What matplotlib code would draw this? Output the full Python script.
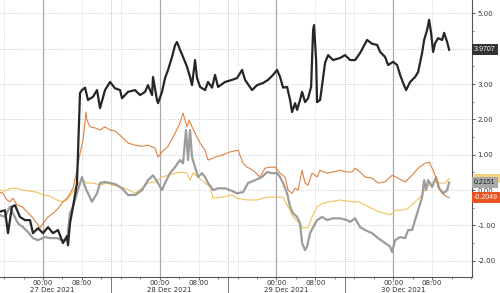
import numpy as np
import matplotlib
matplotlib.use("Agg")
import matplotlib.pyplot as plt
from matplotlib.patches import Rectangle
from matplotlib.ticker import FixedLocator, MultipleLocator, FixedFormatter
import matplotlib.transforms as mtransforms

plt.rcParams["font.family"] = "DejaVu Sans"
plt.rcParams["axes.unicode_minus"] = False

# =========================
# data (hours from 27 Dec 2021 00:00)
# =========================
black_h = [-8.84, -7.81, -7.20, -6.38, -5.76, -4.73, -3.70, -2.67, -2.06, -1.03, 0.00, 1.03,
           2.06, 3.08, 4.11, 4.94, 5.14, 5.55, 6.17, 6.99, 7.61, 8.02, 8.64, 9.25, 10.28, 11.11,
           11.72, 12.75, 13.78, 14.81, 15.84, 16.25, 17.48, 18.92, 19.95, 20.98, 21.59, 22.42,
           22.62, 23.44, 23.65, 24.47, 25.09, 25.71, 26.53, 27.15, 27.56, 28.17, 28.79, 29.61,
           30.23, 30.64, 31.26, 31.67, 32.29, 33.32, 33.93, 34.76, 35.37, 35.99, 37.43, 38.87,
           39.90, 40.93, 41.54, 42.98, 44.01, 45.24, 46.27, 47.30, 48.12, 48.74, 49.36, 50.18,
           50.80, 51.21, 51.83, 52.24, 52.85, 53.27, 53.88, 54.50, 55.12, 55.53, 55.73, 56.15,
           56.35, 56.97, 57.38, 57.99, 58.61, 59.64, 61.08, 62.11, 63.14, 64.16, 65.19, 66.63,
           67.66, 68.69, 69.31, 70.33, 70.95, 71.98, 72.80, 73.42, 74.04, 74.65, 75.48, 76.50,
           77.12, 77.94, 78.36, 78.97, 79.38, 79.79, 80.21, 80.62, 81.23, 82.06, 82.47, 83.09,
           83.50]
black_v = [-0.61, -0.57, -1.22, -0.47, -0.43, -0.76, -0.85, -0.85, -1.22, -1.08, -1.22, -1.05,
           -1.22, -1.13, -1.50, -1.30, -1.56, -0.94, -0.47, 0.20, 2.75, 2.83, 2.90, 2.55, 2.64, 2.83,
           2.32, 2.83, 3.06, 2.88, 2.83, 2.60, 2.78, 2.83, 2.69, 2.78, 2.97, 2.69,
           3.20, 2.55, 2.46, 2.78, 3.17, 3.40, 3.77, 4.10, 4.19, 3.97, 3.77, 3.49,
           3.20, 2.97, 3.68, 3.17, 2.92, 2.83, 3.06, 2.90, 3.26, 2.92, 3.06, 3.12,
           3.17, 3.40, 3.12, 2.83, 2.97, 3.03, 3.12, 3.26, 3.40, 3.20, 2.90, 2.92,
           2.55, 2.21, 2.46, 2.27, 2.55, 2.78, 2.49, 2.60, 2.92, 4.53, 4.67, 3.68,
           2.49, 2.55, 2.97, 3.60, 3.82, 3.68, 3.74, 3.82, 3.68, 3.68, 3.88, 4.25,
           4.14, 4.11, 3.91, 3.77, 3.54, 3.63, 3.54, 3.26, 3.03, 2.83, 3.06, 3.20,
           3.34, 3.88, 4.25, 4.53, 4.82, 4.45, 3.91, 4.16, 4.30, 4.25, 4.45, 4.19,
           3.9707]

gray_h = [-8.84, -7.81, -6.79, -6.17, -5.14, -4.11, -3.08, -2.06, -1.03, 0.41, 1.44, 2.88,
          3.91, 4.94, 5.55, 6.17, 6.99, 8.02, 8.64, 9.25, 10.08, 11.11, 11.72, 12.75, 13.78,
          14.81, 16.25, 17.48, 18.92, 20.36, 21.59, 22.62, 23.65, 24.47, 25.09, 26.12, 27.15,
          28.17, 28.79, 29.41, 29.82, 30.23, 30.64, 31.26, 31.87, 32.70, 33.32, 33.93, 34.96,
          35.99, 37.43, 38.46, 39.90, 41.13, 42.16, 43.60, 45.04, 46.07, 47.09, 48.12, 48.74,
          49.36, 50.18, 50.80, 51.41, 52.24, 52.85, 53.27, 53.88, 54.29, 54.91, 55.53, 56.35,
          57.38, 58.41, 59.64, 61.08, 62.52, 63.14, 64.16, 65.19, 66.22, 67.66, 68.89, 70.33,
          71.36, 71.77, 72.39, 73.42, 74.45, 75.07, 75.89, 76.50, 77.12, 77.94, 78.36, 78.77,
          79.18, 80.00, 80.82, 81.44, 82.26, 83.09, 83.50]
gray_v = [-0.71, -0.76, -0.47, -0.66, -0.94, -1.05, -1.19, -1.36, -1.42, -1.33, -1.36, -1.36,
          -1.42, -1.42, -0.66, -0.47, -0.09, 0.37, 0.09, -0.09, -0.33, -0.09, 0.20, 0.23, 0.20,
          0.17, 0.05, -0.14, -0.14, 0.00, 0.28, 0.42, 0.20, 0.00, 0.20, 0.48, 0.65,
          0.85, 0.76, 1.70, 0.85, 1.70, 0.93, 0.65, 0.37, 0.48, 0.37, 0.20, 0.00,
          0.05, 0.05, 0.00, -0.09, -0.06, 0.20, 0.28, 0.37, 0.51, 0.48, 0.48, 0.37,
          0.20, -0.09, -0.47, -0.66, -0.76, -0.94, -1.50, -1.70, -1.60, -1.22, -1.05, -0.85,
          -0.76, -0.85, -0.80, -0.80, -0.85, -0.90, -0.80, -1.05, -1.13, -1.22, -1.36, -1.50,
          -1.60, -1.75, -1.42, -1.33, -1.36, -1.13, -1.13, -0.85, -0.57, -0.20, 0.28, 0.00,
          0.28, 0.09, 0.37, 0.05, -0.09, 0.00, 0.2151]

orange_h = [-8.84, -8.23, -7.40, -6.79, -6.17, -5.35, -4.32, -3.29, -2.26, -1.23, -0.62, 0.00,
            1.03, 2.06, 3.08, 4.11, 5.14, 6.17, 6.99, 7.61, 8.23, 8.84, 9.05, 9.67, 10.69,
            11.72, 12.75, 13.78, 14.81, 16.25, 17.48, 18.92, 20.36, 21.59, 23.03, 23.65, 24.47,
            25.71, 27.15, 28.17, 28.79, 29.61, 30.02, 30.64, 31.26, 32.29, 33.32, 33.93, 35.37,
            36.81, 38.46, 40.10, 41.13, 41.95, 43.19, 44.63, 45.66, 46.68, 47.71, 48.74, 49.77,
            50.39, 51.21, 51.83, 52.44, 53.27, 53.88, 54.50, 55.32, 56.35, 56.97, 58.41, 59.64,
            61.08, 62.52, 63.55, 64.16, 65.19, 66.22, 67.66, 68.89, 70.33, 71.77, 73.01, 74.45,
            75.89, 77.12, 78.56, 79.38, 80.21, 80.82, 81.23, 82.06, 83.09, 83.50]
orange_v = [-0.06, -0.09, -0.28, -0.33, -0.23, -0.42, -0.47, -0.61, -0.76, -0.94, -1.08, -0.94,
            -0.76, -0.66, -0.52, -0.33, -0.20, 0.05, 0.56, 1.04, 1.42, 2.21, 1.98, 1.79, 1.76,
            1.70, 1.79, 1.70, 1.67, 1.50, 1.33, 1.27, 1.24, 1.27, 1.19, 0.93, 1.08,
            1.24, 1.61, 1.90, 2.18, 1.79, 1.98, 1.79, 1.61, 1.33, 1.13, 0.85, 0.93,
            0.99, 1.08, 1.13, 0.76, 0.65, 0.56, 0.37, 0.62, 0.65, 0.65, 0.48, 0.37,
            0.00, -0.09, 0.05, 0.00, 0.56, 0.20, 0.14, 0.48, 0.37, 0.56, 0.48, 0.51,
            0.56, 0.51, 0.51, 0.62, 0.51, 0.37, 0.34, 0.20, 0.23, 0.42, 0.34, 0.23,
            0.42, 0.62, 0.76, 0.79, 0.56, 0.34, 0.09, -0.09, -0.20, -0.2049]

yellow_h = [-8.84, -7.81, -6.79, -5.35, -4.11, -2.67, -1.23, 0.00, 1.44, 2.88, 3.91, 4.94,
            5.96, 6.99, 8.02, 9.05, 10.28, 11.72, 13.16, 14.39, 15.84, 16.86, 18.92, 20.36,
            21.59, 23.03, 24.47, 25.71, 27.15, 28.58, 29.61, 30.23, 30.85, 31.87, 33.32, 34.34,
            34.96, 36.81, 38.87, 39.90, 41.95, 44.01, 46.07, 48.12, 49.36, 50.39, 51.41, 52.44,
            53.47, 54.50, 55.32, 56.35, 57.38, 59.02, 61.08, 63.55, 64.78, 66.22, 67.66, 68.89,
            70.33, 71.36, 72.39, 73.83, 75.07, 76.50, 77.53, 78.56, 79.59, 80.62, 81.64, 82.67,
            83.50]
yellow_v = [0.00, -0.03, 0.05, 0.05, 0.00, -0.03, -0.06, -0.14, -0.17, -0.28, -0.33, -0.28,
            -0.09, 0.14, 0.28, 0.20, 0.20, 0.14, 0.20, 0.14, 0.09, 0.05, -0.09, 0.05,
            0.20, 0.23, 0.37, 0.42, 0.48, 0.51, 0.48, 0.28, 0.48, 0.37, 0.20, 0.09,
            -0.23, -0.20, -0.14, -0.23, -0.28, -0.28, -0.20, -0.20, -0.20, -0.47, -0.76, -0.90,
            -1.08, -1.05, -0.76, -0.47, -0.38, -0.33, -0.28, -0.33, -0.33, -0.42, -0.52, -0.61,
            -0.66, -0.70, -0.57, -0.57, -0.52, -0.33, -0.20, 0.00, 0.20, 0.23, 0.20, 0.20,
            0.33]

days = ["27 Dec 2021", "28 Dec 2021", "29 Dec 2021", "30 Dec 2021"]
time_ticks = [0, 8, 24, 32, 48, 56, 72, 80]
time_labels = ["00:00", "08:00"] * 4
y_ticks = [-2, -1, 0, 1, 2, 3, 4, 5]
# 4.00 sits under the last-value box of the black line
y_labels = ["-2.00", "-1.00", "0.00", "1.00", "2.00", "3.00", "", "5.00"]

# =========================
# figure
# =========================
fig = plt.figure(figsize=(5, 2.93), dpi=100)
ax = fig.add_axes([0, 16 / 293, 472 / 500, 277 / 293])

ax.set_xlim(-8.84, 88.2)
ax.set_ylim(-2.46, 5.38)

# grid
for y in y_ticks:
    ax.axhline(y, color="#b8b8b8", lw=0.6, ls=(0, (1, 2)), zorder=0)
for d in range(4):
    ax.axvline(d * 24, color="#a8a8a8", lw=0.9, zorder=0)
for h in [-8, 8, 16, 32, 40, 56, 64, 80]:
    ax.axvline(h, color="#c0c0c0", lw=0.6, ls=(0, (1, 2)), zorder=0)
for h in [14, 38, 62]:
    ax.axvline(h, color="#c0c0c0", lw=0.7, ls=(0, (1, 1)), zorder=0)

# separators in the label area
trans = mtransforms.blended_transform_factory(ax.transData, ax.transAxes)
for h in [14, 38, 62]:
    ax.plot([h, h], [0, -16 / 277], color="#777777", lw=0.7, transform=trans, clip_on=False)

# series
ax.plot(yellow_h, yellow_v, color="#f0c35a", lw=0.8, zorder=2)
ax.plot(gray_h, gray_v, color="#9c9c9c", lw=1.6, zorder=3)
ax.plot(orange_h, orange_v, color="#dc8243", lw=0.8, zorder=4)
ax.plot(black_h, black_v, color="#262626", lw=1.6, zorder=5)

# axes style
for s in ["left", "top"]:
    ax.spines[s].set_visible(False)
for s in ["right", "bottom"]:
    ax.spines[s].set_color("#555555")
    ax.spines[s].set_linewidth(0.8)

ax.yaxis.tick_right()
ax.yaxis.set_major_locator(FixedLocator(y_ticks))
ax.yaxis.set_major_formatter(FixedFormatter(y_labels))
ax.yaxis.set_minor_locator(MultipleLocator(0.5))
ax.tick_params(axis="y", which="major", length=2.5, width=0.7, colors="#555555",
               labelsize=5, labelcolor="#333333", pad=1.5)
ax.tick_params(axis="y", which="minor", length=1.5, width=0.5, colors="#555555")

ax.xaxis.set_major_locator(FixedLocator(time_ticks))
ax.set_xticklabels(time_labels)
ax.xaxis.set_minor_locator(MultipleLocator(4))
ax.tick_params(axis="x", which="major", length=2, width=0.6, colors="#555555",
               labelsize=5, labelcolor="#333333", pad=0.5)
ax.tick_params(axis="x", which="minor", length=1.5, width=0.5, colors="#555555")

for i, d in enumerate(days):
    ax.annotate(d, xy=(i * 24 + 2, 0), xycoords=trans, xytext=(0, -9.6),
                textcoords="offset points", ha="center", va="center",
                fontsize=5, color="#333333", annotation_clip=False)

# last value labels
ytrans = mtransforms.blended_transform_factory(ax.transAxes, ax.transData)
ax.add_patch(Rectangle((1.004, yellow_v[-1] - 0.13), 0.06, 0.26, transform=ytrans,
                       fc="#f3d27e", ec="none", clip_on=False, zorder=6))


def end_label(val, txt, fc, tc):
    ax.annotate(txt, xy=(1, val), xycoords=("axes fraction", "data"),
                xytext=(1.5, 0), textcoords="offset points", ha="left", va="center",
                fontsize=5, color=tc, zorder=7, annotation_clip=False,
                family="Liberation Sans",
                bbox=dict(boxstyle="square,pad=0.3", fc=fc, ec="none"))


end_label(gray_v[-1], "0.2151", "#a9a9a9", "#222222")
end_label(orange_v[-1], "-0.2049", "#e8531f", "#ffffff")
end_label(black_v[-1], "3.9707", "#333333", "#ffffff")

fig.savefig("out.png", dpi=100)
